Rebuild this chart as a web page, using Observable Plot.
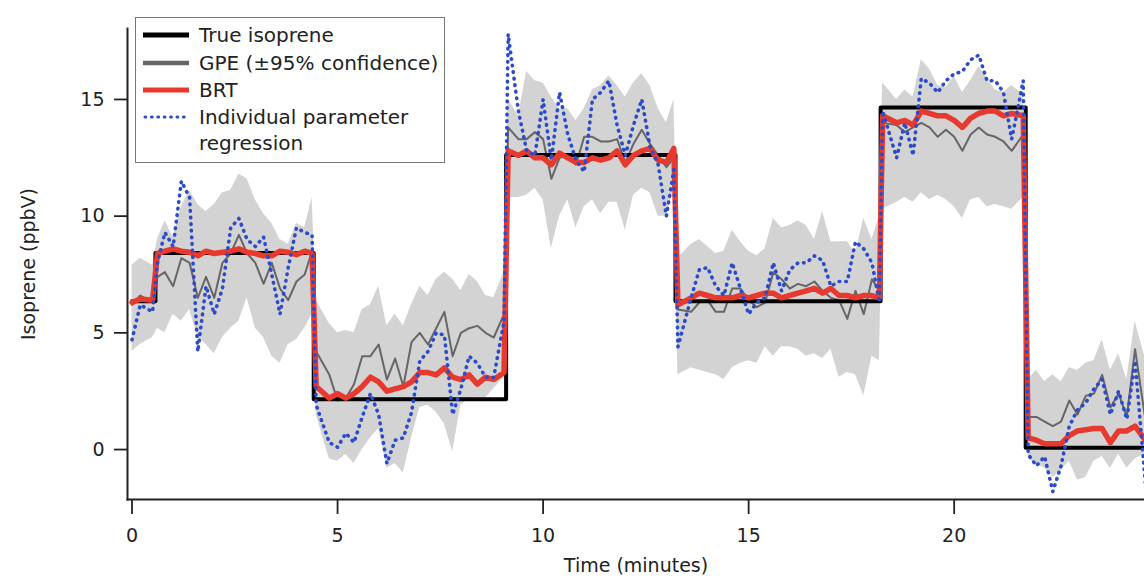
<!DOCTYPE html>
<html>
<head>
<meta charset="utf-8">
<script src="https://cdn.jsdelivr.net/npm/d3@7"></script>
<script src="https://cdn.jsdelivr.net/npm/@observablehq/plot@0.6"></script>
<style>
  html, body { margin: 0; padding: 0; background: #fff; }
  #wrap { position: relative; width: 1144px; height: 578px; font-family: "DejaVu Sans", sans-serif; }
  #legend { position: absolute; left: 135px; top: 17px; width: 310px; height: 146px;
            border: 1.5px solid #777; background: #fff; box-sizing: border-box; }
  .row { position: absolute; left: 0; height: 26px; display: flex; align-items: center; font-size: 20px; color: #222; white-space: nowrap; }
  .row svg { margin-left: 7px; margin-right: 10px; }
</style>
</head>
<body>
<div id="wrap">
  <div id="chart"></div>
  <div id="legend"></div>
</div>
<script>
// ---- Data ----
const time = [0, 0.2, 0.5, 0.62, 0.8, 1.0, 1.2, 1.4, 1.6, 1.8, 2.0, 2.2, 2.4, 2.6, 2.8, 3.0, 3.2, 3.4, 3.6, 3.8, 4.0, 4.2, 4.38,
  4.48, 4.8, 5.0, 5.2, 5.4, 5.6, 5.8, 6.0, 6.2, 6.4, 6.6, 6.8, 7.0, 7.2, 7.4, 7.6, 7.8, 8.0, 8.2, 8.4, 8.6, 8.8, 9.05,
  9.15, 9.4, 9.6, 9.8, 10.0, 10.2, 10.4, 10.6, 10.8, 11.0, 11.2, 11.4, 11.6, 11.8, 12.0, 12.2, 12.4, 12.6, 12.8, 13.0, 13.18,
  13.28, 13.6, 13.8, 14.0, 14.2, 14.4, 14.6, 14.8, 15.0, 15.2, 15.4, 15.6, 15.8, 16.0, 16.2, 16.4, 16.6, 16.8, 17.0, 17.2, 17.4, 17.6, 17.8, 18.0, 18.18,
  18.26, 18.6, 18.8, 19.0, 19.2, 19.4, 19.6, 19.8, 20.0, 20.2, 20.4, 20.6, 20.8, 21.0, 21.2, 21.4, 21.68,
  21.8, 22.0, 22.2, 22.4, 22.6, 22.8, 23.0, 23.2, 23.4, 23.6, 23.8, 24.0, 24.2, 24.4, 24.65];

const gpeLow = [4.2, 4.5, 4.8, 5.2, 5.0, 5.8, 5.5, 6.0, 4.8, 4.5, 4.1, 4.8, 5.2, 5.5, 6.5, 5.2, 4.8, 4.0, 3.7, 4.5, 4.7, 5.2, 5.8,
  1.5, -0.4, -0.5, -0.2, -0.6, 0.0, 0.5, 0.9, -0.8, -0.6, -1.0, 0.5, 1.8, 1.9, 1.6, 1.1, -0.1, 1.9, 2.2, 2.2, 2.2, 2.6, 3.1,
  10.8, 10.8, 10.9, 11.2, 10.7, 8.6, 10.0, 10.7, 9.5, 10.4, 10.7, 10.1, 10.6, 10.6, 9.4, 10.9, 11.2, 11.0, 10.0, 10.0, 11.2,
  3.2, 3.5, 3.4, 3.3, 3.2, 3.0, 3.5, 3.7, 3.8, 3.7, 4.4, 4.0, 4.4, 4.4, 4.3, 4.0, 4.1, 3.9, 4.3, 3.1, 3.3, 3.2, 2.3, 4.0, 3.8,
  10.3, 10.6, 10.8, 10.6, 11.0, 10.7, 10.9, 10.7, 10.4, 9.9, 10.7, 10.8, 10.4, 10.5, 10.4, 10.3, 10.8,
  -0.4, -0.6, -0.8, -1.2, -0.9, -0.5, -1.3, -1.2, -0.5, -0.3, -0.8, -0.2, -0.8, -0.4, -0.2];

const gpeHigh = [7.9, 8.2, 7.9, 9.0, 9.8, 9.1, 10.4, 11.1, 10.5, 10.2, 10.5, 11.0, 11.1, 11.8, 11.6, 10.7, 10.1, 9.7, 9.0, 8.8, 9.7, 9.5, 10.8,
  6.4, 5.4, 5.0, 5.1, 5.0, 6.0, 6.2, 7.0, 5.3, 5.8, 5.3, 6.2, 7.0, 6.6, 7.3, 7.6, 7.3, 6.8, 7.5, 7.2, 6.6, 6.5, 7.6,
  15.0, 14.3, 16.2, 15.8, 15.7, 15.1, 14.6, 14.6, 14.1, 14.6, 15.4, 15.6, 16.0, 15.6, 15.1, 15.7, 16.1, 15.6, 14.6, 14.0, 15.0,
  8.2, 8.8, 9.0, 8.7, 8.4, 8.5, 9.4, 8.9, 8.5, 8.3, 8.6, 9.9, 9.5, 9.6, 9.8, 9.6, 9.0, 10.2, 8.9, 8.9, 8.9, 8.4, 9.9, 9.0, 10.0,
  15.7, 15.0, 15.4, 15.1, 16.7, 16.3, 15.6, 15.5, 16.0, 15.3, 15.8, 16.4, 15.9, 15.4, 15.3, 15.6, 15.2,
  3.0, 3.4, 2.9, 3.2, 2.9, 3.5, 3.4, 3.7, 3.8, 4.7, 3.4, 4.1, 3.0, 5.5, 3.9];

const gpe = [6.2, 6.6, 6.3, 7.4, 7.6, 7.0, 8.2, 8.0, 6.5, 7.4, 6.5, 8.0, 8.4, 9.2, 8.4, 8.0, 7.1, 8.0, 6.9, 6.4, 7.2, 7.5, 8.5,
  4.2, 3.2, 2.1, 2.2, 2.8, 4.0, 4.0, 4.5, 3.0, 3.9, 2.7, 4.6, 5.0, 4.5, 5.2, 5.9, 4.0, 5.0, 5.2, 5.3, 5.0, 4.8, 5.8,
  13.8, 13.3, 13.3, 13.6, 13.3, 11.6, 12.5, 12.6, 12.2, 13.4, 13.4, 13.2, 13.2, 13.3, 12.3, 13.1, 13.7, 13.1, 12.6, 12.1, 12.5,
  6.0, 5.9, 6.3, 6.4, 5.9, 5.9, 6.9, 6.9, 6.4, 6.1, 6.3, 7.6, 7.3, 6.9, 7.1, 7.0, 7.2, 6.8, 6.5, 6.4, 5.6, 6.8, 5.8, 7.3, 6.8,
  14.0, 13.9, 13.6, 13.8, 14.0, 13.8, 13.4, 13.7, 13.4, 12.8, 13.5, 13.8, 13.5, 13.4, 13.2, 12.8, 13.5,
  1.4, 1.4, 1.2, 1.0, 1.2, 2.1, 1.5, 2.3, 2.4, 3.2, 1.8, 2.4, 1.4, 4.3, 1.3];

const brt = [6.3, 6.45, 6.4, 8.4, 8.5, 8.6, 8.5, 8.45, 8.3, 8.5, 8.4, 8.45, 8.5, 8.6, 8.45, 8.4, 8.3, 8.3, 8.5, 8.45, 8.35, 8.5, 8.4,
  2.7, 2.2, 2.4, 2.2, 2.4, 2.7, 3.1, 2.9, 2.5, 2.6, 2.7, 2.9, 3.3, 3.3, 3.2, 3.5, 3.1, 3.0, 3.2, 2.8, 3.1, 3.0, 3.3,
  12.8, 12.6, 12.8, 12.5, 12.5, 12.2, 12.7, 12.5, 12.3, 12.3, 12.5, 12.4, 12.5, 12.8, 12.2, 12.6, 12.8, 12.9, 12.4, 12.3, 12.9,
  6.2, 6.5, 6.7, 6.6, 6.5, 6.5, 6.5, 6.6, 6.5, 6.6, 6.7, 6.7, 6.5, 6.6, 6.7, 6.8, 6.9, 6.7, 6.9, 6.6, 6.6, 6.5, 6.6, 6.6, 6.5,
  14.3, 14.0, 14.1, 13.9, 14.5, 14.4, 14.3, 14.3, 14.1, 13.8, 14.2, 14.4, 14.5, 14.5, 14.3, 14.4, 14.3,
  0.5, 0.4, 0.25, 0.25, 0.25, 0.6, 0.8, 0.85, 0.9, 0.9, 0.3, 0.8, 0.8, 1.0, 0.4];

const individual = [4.7, 6.2, 5.9, 8.0, 9.3, 8.7, 11.5, 10.8, 4.2, 7.0, 5.8, 6.9, 9.5, 9.9, 9.0, 8.7, 9.1, 7.5, 5.8, 7.8, 9.5, 9.3, 9.2,
  1.9, 0.3, 0.1, 0.7, 0.3, 1.4, 2.4, 1.5, -0.6, 0.4, 0.5, 1.6, 3.8, 4.2, 5.0, 4.9, 1.5, 2.6, 4.0, 3.7, 3.1, 3.1, 5.5,
  17.8, 14.5, 12.8, 12.6, 15.0, 12.4, 15.3, 13.5, 12.4, 11.9, 15.0, 15.3, 15.8, 13.9, 12.6, 13.9, 15.0, 13.0, 12.2, 10.0, 12.0,
  4.4, 6.5, 7.7, 7.8, 7.0, 6.6, 8.0, 6.9, 5.8, 6.3, 6.5, 8.0, 6.8, 7.7, 8.0, 8.0, 8.3, 8.1, 7.0, 7.2, 7.2, 8.9, 8.6, 8.0, 6.3,
  14.5, 12.5, 14.0, 12.6, 15.9, 15.7, 15.3, 15.8, 16.1, 16.2, 16.7, 16.9, 15.8, 15.8, 15.3, 13.3, 15.8,
  -0.2, -0.7, -0.3, -1.8, -0.7, 1.0, 1.7, 2.0, 2.6, 3.0, 1.5, 2.5, 1.3, 3.8, -1.4];

const trueTime = [0, 0.57, 4.42, 9.1, 13.22, 18.21, 21.74, 24.65];
const trueValue = [6.35, 8.42, 2.15, 12.62, 6.35, 14.65, 0.08, 0.08];

const xDomain = [-0.11, 24.63];
const yDomain = [-2.14, 18.04];
const xTicks = [0, 5, 10, 15, 20];
const yTicks = [0, 5, 10, 15];

const seriesNames = ["True isoprene", "GPE (\u00B195% confidence)", "BRT", "Individual parameter", "regression"];

// ---- Build tables ----
const rows = time.map((t, i) => ({t, lo: gpeLow[i], hi: gpeHigh[i], gpe: gpe[i], brt: brt[i], ind: individual[i]}));
const trueRows = trueTime.map((t, i) => ({t, v: trueValue[i]}));

const chart = Plot.plot({
  width: 1144,
  height: 578,
  marginLeft: 127,
  marginRight: 0,
  marginTop: 28,
  marginBottom: 79,
  style: {fontFamily: "DejaVu Sans, sans-serif", fontSize: "19px", color: "#222", background: "white", overflow: "visible"},
  x: {domain: xDomain, label: null},
  y: {domain: yDomain, label: null},
  marks: [
    Plot.areaY(rows, {x: "t", y1: "lo", y2: "hi", fill: "#d3d3d3", fillOpacity: 1}),
    Plot.lineY(rows, {x: "t", y: "gpe", stroke: "#666", strokeWidth: 2, strokeLinejoin: "round"}),
    Plot.line(trueRows, {x: "t", y: "v", stroke: "#000", strokeWidth: 4, curve: "step-after"}),
    Plot.lineY(rows, {x: "t", y: "brt", stroke: "#e8392f", strokeWidth: 5.5, strokeLinejoin: "round"}),
    Plot.lineY(rows, {x: "t", y: "ind", stroke: "#2c4bc9", strokeWidth: 3.6, strokeDasharray: "0.6,6", strokeLinecap: "round", strokeLinejoin: "round"}),
    Plot.axisX({ticks: xTicks, tickSize: 15, tickPadding: 14, strokeWidth: 1.8, stroke: "#222",
      label: "Time (minutes)", labelAnchor: "center", labelArrow: "none", labelOffset: 72}),
    Plot.axisY({ticks: yTicks, tickSize: 13, tickPadding: 10, strokeWidth: 1.8, stroke: "#222",
      label: "Isoprene (ppbV)", labelAnchor: "center", labelArrow: "none", labelOffset: 106}),
    Plot.frame({anchor: "left", stroke: "#222", strokeWidth: 2}),
    Plot.frame({anchor: "bottom", stroke: "#222", strokeWidth: 2})
  ]
});
document.getElementById("chart").appendChild(chart);

// ---- Legend (HTML overlay) ----
const legend = document.getElementById("legend");
const swatches = [
  `<line x1="0" y1="6" x2="46" y2="6" stroke="#000" stroke-width="5"/>`,
  `<line x1="0" y1="6" x2="46" y2="6" stroke="#666" stroke-width="4.5"/>`,
  `<line x1="0" y1="6" x2="46" y2="6" stroke="#e8392f" stroke-width="5"/>`,
  `<line x1="2" y1="6" x2="46" y2="6" stroke="#2c4bc9" stroke-width="3" stroke-dasharray="0.8,5.6" stroke-linecap="round"/>`,
  ``
];
const rowTops = [4, 32, 59, 86, 112];
seriesNames.forEach((name, i) => {
  const d = document.createElement("div");
  d.className = "row";
  d.style.top = rowTops[i] + "px";
  d.innerHTML = `<svg width="46" height="12">${swatches[i]}</svg><span>${name}</span>`;
  legend.appendChild(d);
});
</script>
</body>
</html>
